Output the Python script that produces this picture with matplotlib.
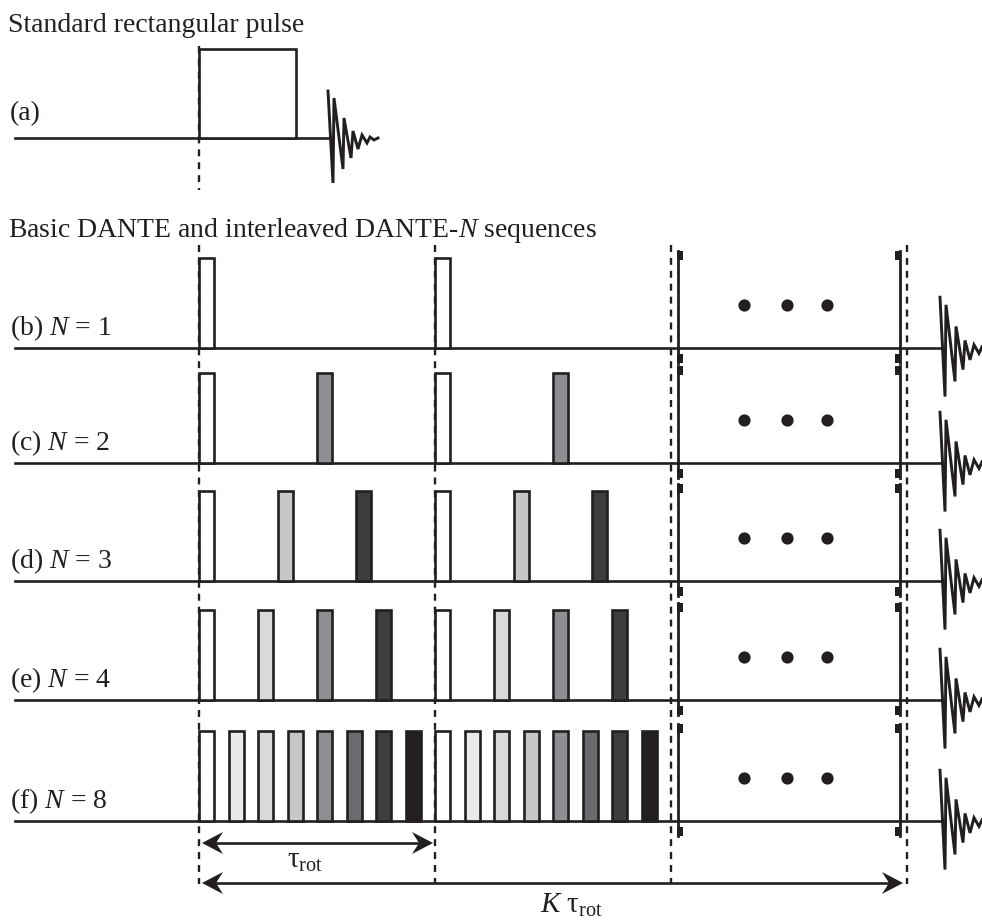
import numpy as np
import matplotlib
matplotlib.use('Agg')
import matplotlib.pyplot as plt
from matplotlib.patches import Rectangle, Polygon

plt.rcParams['font.family'] = ['Liberation Serif', 'DejaVu Serif']
plt.rcParams['mathtext.fontset'] = 'custom'
plt.rcParams['mathtext.rm'] = 'Liberation Serif'
plt.rcParams['mathtext.it'] = 'Liberation Serif:italic'
plt.rcParams['lines.scale_dashes'] = False

INK = '#231f20'

# DANTE-N rows: label, N, and grey of the k-th interleaved pulse (k = 0..N-1)
row_labels = ['(b)', '(c)', '(d)', '(e)', '(f)']
n_values = [1, 2, 3, 4, 8]
pulse_greys = [
    ['#ffffff'],
    ['#ffffff', '#8e8f92'],
    ['#ffffff', '#c6c7c9', '#3d3d3f'],
    ['#ffffff', '#d8d9da', '#8e8f92', '#3d3d3f'],
    ['#ffffff', '#e9e9ea', '#d8d9da', '#c6c7c9', '#8e8f92', '#6a6b6e', '#3d3d3f', '#231f20'],
]
periods_drawn = 2          # rotor periods drawn in full
K_total = 3                # K rotor periods up to acquisition
rect_pulse_len = 0.41      # standard pulse length, in rotor periods
dots_t = [2.31, 2.49, 2.66]

# FID zigzag: time offset (px) and amplitude (px)
fid_dx = [0, 5, 6, 15, 16, 23, 25, 30, 34, 39, 42, 46, 50]
fid_dy = [-47, 45, -40, 31, -20, 20, -7, 11, -3, 5, -1, 2, 0]

# ---- layout (pixels) ----
PX = 236.0      # pixels per rotor period
T0 = 199.0      # pixel x of t = 0
W, H = 982, 924
row_y = [348, 463, 581, 700, 821]
y_a = 138
pulse_h = 90
pulse_w = 15 / PX
FS = 20


def tx(px):
    return (px - T0) / PX


fig = plt.figure(figsize=(W / 100, H / 100), dpi=100)
ax = fig.add_axes([0, 0, 1, 1])
ax.set_xlim(tx(0), tx(W))
ax.set_ylim(H, 0)
ax.axis('off')

lw = 1.9
dash = dict(color=INK, lw=1.7, linestyle=(0, (5, 4.3)), zorder=5)


def draw_fid(x0, y0, scale=1.0):
    xs = [x0 + tx(T0 + d) for d in fid_dx]
    ys = [y0 + a * scale for a in fid_dy]
    ax.plot(xs, ys, color=INK, lw=2.1, solid_joinstyle='miter', zorder=3)


def arrow(t1, t2, y):
    ax.plot([t1 + 0.05, t2 - 0.05], [y, y], color=INK, lw=1.9, zorder=3)
    hl, hw, notch = 21 / PX, 11, 14 / PX
    for tip, s in [(t1, 1), (t2, -1)]:
        ax.add_patch(Polygon([(tip, y), (tip + s * hl, y - hw), (tip + s * notch, y),
                              (tip + s * hl, y + hw)], closed=True, fc=INK, ec='none', zorder=4))


# ---- (a) standard rectangular pulse ----
ax.text(tx(8), 32, 'Standard rectangular pulse', fontsize=FS, color=INK, va='baseline')
ax.text(tx(10), y_a - 18, '(a)', fontsize=FS, color=INK, va='baseline')
fid_a_t = tx(328)
ax.plot([tx(15), fid_a_t + tx(T0 + 2)], [y_a, y_a], color=INK, lw=lw, zorder=2)
ax.add_patch(Rectangle((0, y_a - 89), rect_pulse_len, 89, fc='white', ec=INK, lw=lw, zorder=3))
draw_fid(fid_a_t, y_a)
ax.plot([0, 0], [46, 190], **dash)

# ---- (b)-(f) DANTE sequences ----
ax.text(tx(8), 237, 'Basic DANTE and interleaved DANTE-$N$ sequences',
        fontsize=FS, color=INK, va='baseline')

fid_t = tx(940)
br_l, br_r = tx(678), tx(900)
cap_w = 6 / PX
for lab, n, greys, y in zip(row_labels, n_values, pulse_greys, row_y):
    ax.text(tx(10), y - 13, f'{lab} $N$ = {n}', fontsize=FS, color=INK, va='baseline')
    ax.plot([tx(15), fid_t + tx(T0 + 2)], [y, y], color=INK, lw=lw, zorder=2)
    for p in range(periods_drawn):
        for k in range(n):
            t = p + k / n
            ax.add_patch(Rectangle((t, y - pulse_h), pulse_w, pulse_h,
                                   fc=greys[k], ec=INK, lw=lw, zorder=3))
    # break brackets
    top, bot = y - 97, y + 15
    for xb, s in [(br_l, 1), (br_r, -1)]:
        ax.plot([xb, xb], [top, bot], color=INK, lw=2.0, zorder=3)
        x_cap = xb - 1 / PX if s > 0 else xb - cap_w + 1 / PX
        ax.add_patch(Rectangle((x_cap, top), cap_w, 9, fc=INK, ec='none', zorder=3))
        ax.add_patch(Rectangle((x_cap, bot - 9), cap_w, 9, fc=INK, ec='none', zorder=3))
    ax.plot(dots_t, [y - 43] * len(dots_t), 'o', color=INK, ms=8.8, mec='none', zorder=3)
    draw_fid(fid_t, y, 1.08)

# dashed guides at multiples of the rotor period
for t in range(K_total + 1):
    ax.plot([t, t], [245, 884], **dash)

arrow(tx(202), 1 - 2 / PX, 843)
ax.text(0.45, 868, r'$\mathrm{\tau_{rot}}$', fontsize=21, color=INK, ha='center', va='baseline')
arrow(tx(202), K_total - 4 / PX, 883)
ax.text(tx(572), 913, r'$K\ \mathrm{\tau_{rot}}$', fontsize=21, color=INK, ha='center', va='baseline')

fig.savefig('out.png', dpi=100)
